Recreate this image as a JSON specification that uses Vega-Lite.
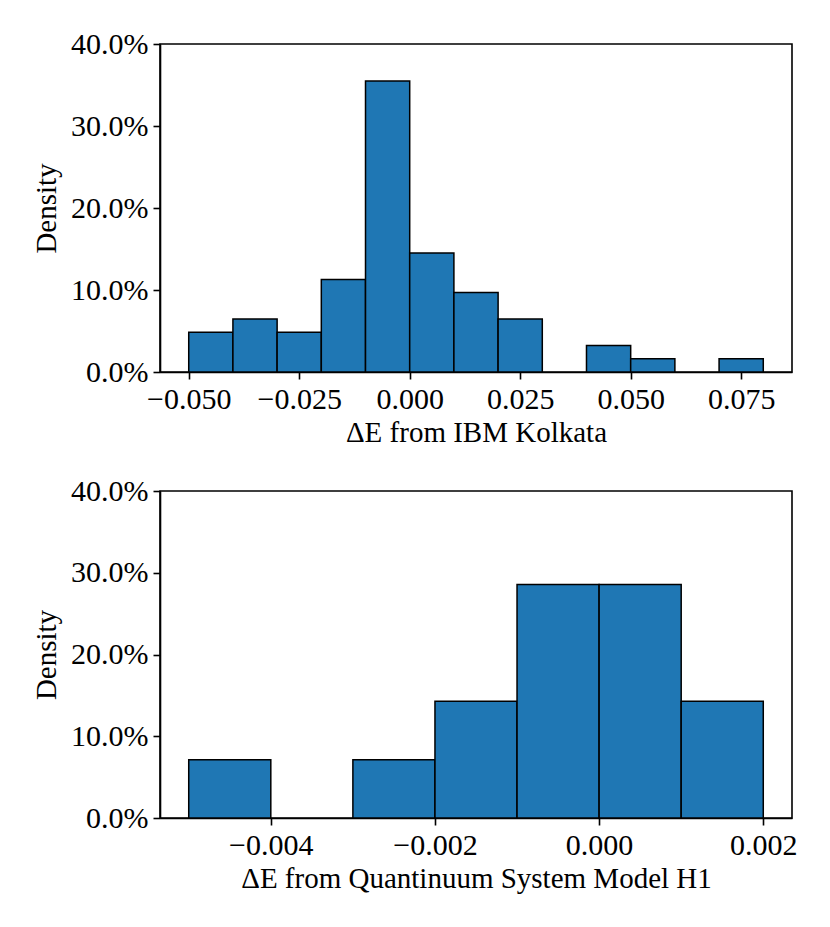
{
  "$schema": "https://vega.github.io/schema/vega-lite/v6.json",
  "background": "white",
  "padding": {"left": 31, "top": 28, "right": 5, "bottom": 5},
  "datasets": {
    "kolkata": [
      {"bin_start": -0.05, "bin_end": -0.04, "share": 0.0484},
      {"bin_start": -0.04, "bin_end": -0.03, "share": 0.0645},
      {"bin_start": -0.03, "bin_end": -0.02, "share": 0.0484},
      {"bin_start": -0.02, "bin_end": -0.01, "share": 0.1129},
      {"bin_start": -0.01, "bin_end": 0.0, "share": 0.3548},
      {"bin_start": 0.0, "bin_end": 0.01, "share": 0.1452},
      {"bin_start": 0.01, "bin_end": 0.02, "share": 0.0968},
      {"bin_start": 0.02, "bin_end": 0.03, "share": 0.0645},
      {"bin_start": 0.04, "bin_end": 0.05, "share": 0.0323},
      {"bin_start": 0.05, "bin_end": 0.06, "share": 0.0161},
      {"bin_start": 0.07, "bin_end": 0.08, "share": 0.0161}
    ],
    "h1": [
      {"bin_start": -0.005, "bin_end": -0.004, "share": 0.0714},
      {"bin_start": -0.003, "bin_end": -0.002, "share": 0.0714},
      {"bin_start": -0.002, "bin_end": -0.001, "share": 0.1429},
      {"bin_start": -0.001, "bin_end": 0.0, "share": 0.2857},
      {"bin_start": 0.0, "bin_end": 0.001, "share": 0.2857},
      {"bin_start": 0.001, "bin_end": 0.002, "share": 0.1429}
    ]
  },
  "spacing": 27,
  "vconcat": [
    {
      "data": {"name": "kolkata"},
      "width": 632,
      "height": 328,
      "mark": {"type": "bar", "color": "#1f77b4", "stroke": "black", "strokeWidth": 1.5},
      "encoding": {
        "x": {
          "field": "bin_start",
          "type": "quantitative",
          "title": "ΔE from IBM Kolkata",
          "scale": {"domain": [-0.0565, 0.0865], "nice": false, "zero": false},
          "axis": {"values": [-0.05, -0.025, 0, 0.025, 0.05, 0.075], "format": ".3f"}
        },
        "x2": {"field": "bin_end"},
        "y": {
          "field": "share",
          "type": "quantitative",
          "title": "Density",
          "scale": {"domain": [0, 0.4], "nice": false},
          "axis": {"values": [0, 0.1, 0.2, 0.3, 0.4], "format": ".1%", "titlePadding": 9}
        },
        "y2": {"datum": 0}
      }
    },
    {
      "data": {"name": "h1"},
      "width": 632,
      "height": 327,
      "mark": {"type": "bar", "color": "#1f77b4", "stroke": "black", "strokeWidth": 1.5},
      "encoding": {
        "x": {
          "field": "bin_start",
          "type": "quantitative",
          "title": "ΔE from Quantinuum System Model H1",
          "scale": {"domain": [-0.00535, 0.00235], "nice": false, "zero": false},
          "axis": {"values": [-0.004, -0.002, 0, 0.002], "format": ".3f"}
        },
        "x2": {"field": "bin_end"},
        "y": {
          "field": "share",
          "type": "quantitative",
          "title": "Density",
          "scale": {"domain": [0, 0.4], "nice": false},
          "axis": {"values": [0, 0.1, 0.2, 0.3, 0.4], "format": ".1%", "titlePadding": 9}
        },
        "y2": {"datum": 0}
      }
    }
  ],
  "config": {
    "font": "Liberation Serif",
    "view": {"stroke": "black", "strokeWidth": 1.6},
    "axis": {
      "grid": false,
      "labelFont": "Liberation Serif",
      "titleFont": "Liberation Serif",
      "labelFontSize": 30,
      "titleFontSize": 29,
      "titleFontWeight": "normal",
      "labelColor": "black",
      "titleColor": "black",
      "domainColor": "black",
      "domainWidth": 1.6,
      "tickColor": "black",
      "tickSize": 7,
      "tickWidth": 1.6,
      "labelPadding": 5,
      "titlePadding": 4,
      "labelFlush": false,
      "labelOverlap": false
    }
  }
}
